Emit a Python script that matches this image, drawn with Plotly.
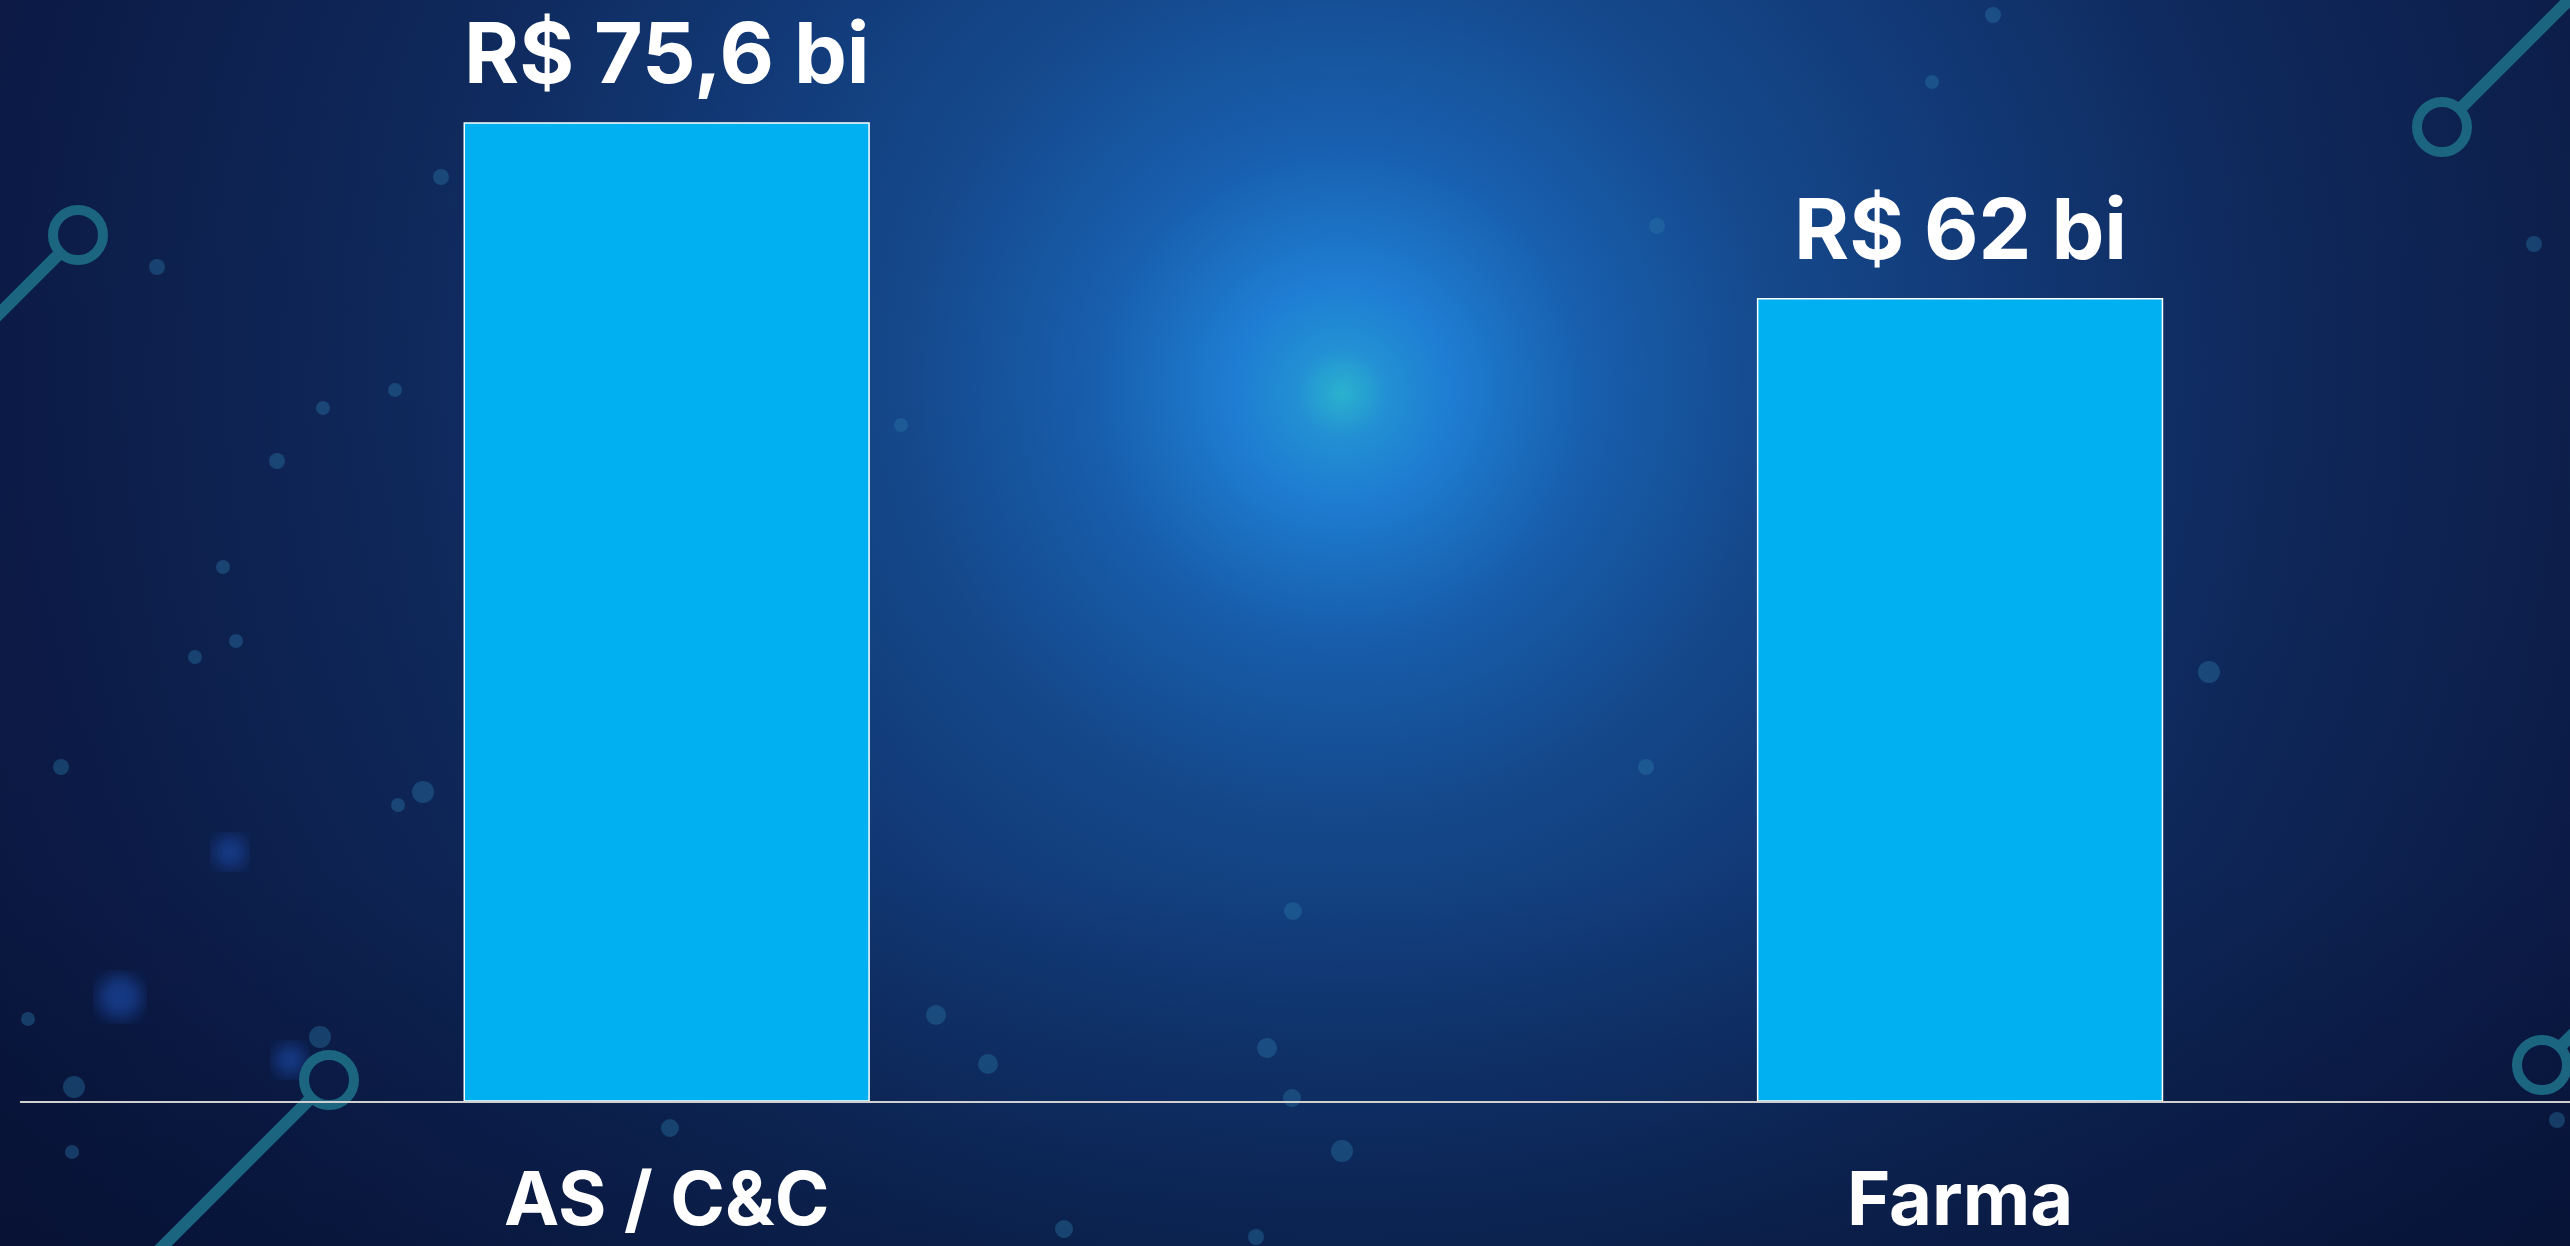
import base64
import plotly.graph_objects as go

# ---- data ----
categories = ["AS / C&C", "Farma"]
values = [75.6, 62.0]
value_labels = ["R$ 75,6 bi", "R$ 62 bi"]

# ---- canvas ----
W, H = 2570, 1246
ML, MR, MT, MB = 20, 0, 0, 145
plot_w = W - ML - MR
plot_h = H - MT - MB

# ---- decorative background (svg) ----
ring_decor = [  # (cx, cy, x_end, y_end)
    (78, 235, -20, 333),
    (2442, 127, 2600, -31),
    (329, 1080, 150, 1259),
    (2542, 1065, 2620, 987),
]
dot_decor = [
    (441, 177, 8), (157, 267, 8), (323, 408, 7), (395, 390, 7), (277, 461, 8),
    (901, 425, 7), (223, 567, 7), (236, 641, 7), (195, 657, 7), (61, 767, 8),
    (423, 792, 11), (398, 805, 7), (1657, 226, 8), (1993, 15, 8), (1932, 82, 7),
    (2534, 244, 8), (2209, 672, 11), (1646, 767, 8), (1293, 911, 9), (936, 1015, 10),
    (988, 1064, 10), (1267, 1048, 10), (1292, 1098, 9), (1342, 1151, 11), (670, 1128, 9),
    (72, 1152, 7), (28, 1019, 7), (74, 1087, 11), (320, 1037, 11), (1064, 1229, 9),
    (1256, 1237, 8), (2557, 1120, 8),
]
blur_decor = [(120, 997, 22), (230, 852, 16), (290, 1060, 16)]

svg = [f'<svg xmlns="http://www.w3.org/2000/svg" width="{W}" height="{H}" viewBox="0 0 {W} {H}">',
       '<defs>',
       '<radialGradient id="g" gradientUnits="userSpaceOnUse" cx="1342" cy="393" r="1550">',
       '<stop offset="0" stop-color="#2bb6d3"/>',
       '<stop offset="0.03" stop-color="#2392d8"/>',
       '<stop offset="0.07" stop-color="#1f80d6"/>',
       '<stop offset="0.16" stop-color="#1860b0"/>',
       '<stop offset="0.28" stop-color="#154a8e"/>',
       '<stop offset="0.42" stop-color="#123a78"/>',
       '<stop offset="0.6" stop-color="#0f295c"/>',
       '<stop offset="0.85" stop-color="#0c1c48"/>',
       '<stop offset="1" stop-color="#0a163e"/>',
       '</radialGradient>',
       '<linearGradient id="v" x1="0" y1="0" x2="0" y2="1">',
       '<stop offset="0" stop-color="#000820" stop-opacity="0"/>',
       '<stop offset="0.7" stop-color="#000820" stop-opacity="0.05"/>',
       '<stop offset="1" stop-color="#000820" stop-opacity="0.3"/>',
       '</linearGradient>',
       '<filter id="b"><feGaussianBlur stdDeviation="8"/></filter>',
       '</defs>',
       f'<rect x="0" y="0" width="{W}" height="{H}" fill="url(#g)"/>',
       f'<rect x="0" y="0" width="{W}" height="{H}" fill="url(#v)"/>']
for cx, cy, r in blur_decor:
    svg.append(f'<circle cx="{cx}" cy="{cy}" r="{r}" fill="#1d4fb0" opacity="0.6" filter="url(#b)"/>')
for cx, cy, r in dot_decor:
    svg.append(f'<circle cx="{cx}" cy="{cy}" r="{r}" fill="#2a78a8" opacity="0.4"/>')
for cx, cy, xe, ye in ring_decor:
    dx, dy = xe - cx, ye - cy
    n = (dx * dx + dy * dy) ** 0.5
    sx, sy = cx + 25 * dx / n, cy + 25 * dy / n
    svg.append(f'<line x1="{sx:.1f}" y1="{sy:.1f}" x2="{xe}" y2="{ye}" stroke="#1b6580" stroke-width="12"/>')
    svg.append(f'<circle cx="{cx}" cy="{cy}" r="25" fill="none" stroke="#1b6580" stroke-width="10"/>')
svg.append('</svg>')
bg_src = "data:image/svg+xml;base64," + base64.b64encode("".join(svg).encode()).decode()

# ---- figure ----
fig = go.Figure()
fig.add_trace(go.Bar(
    x=categories, y=values, width=0.313,
    marker=dict(color="#00B0F0", line=dict(color="#ffffff", width=1.5)),
    hoverinfo="skip",
))

for c, v, t in zip(categories, values, value_labels):
    fig.add_annotation(
        x=c, y=v, text=t, showarrow=False, yanchor="bottom", yshift=18,
        font=dict(family="Inter", size=84, color="white", weight=700),
    )

fig.update_layout(
    width=W, height=H,
    margin=dict(l=ML, r=MR, t=MT, b=MB, pad=0, autoexpand=False),
    paper_bgcolor="#0d1f4c",
    plot_bgcolor="rgba(0,0,0,0)",
    showlegend=False,
    images=[dict(
        source=bg_src, xref="paper", yref="paper",
        x=-ML / plot_w, y=1 + MT / plot_h,
        sizex=W / plot_w, sizey=H / plot_h,
        sizing="stretch", xanchor="left", yanchor="top", layer="below",
    )],
    xaxis=dict(
        type="category", range=[-0.5, 1.4716], automargin=False,
        showline=True, linecolor="#d0d0d0", linewidth=2,
        showgrid=False, zeroline=False, ticks="",
        ticklabelstandoff=33,
        tickfont=dict(family="Inter", size=74, color="white", weight=700),
    ),
    yaxis=dict(
        range=[0, 85.1], visible=False, showgrid=False, zeroline=False,
        automargin=False,
    ),
)

fig.write_html(
    "out.html",
    config={"displayModeBar": False},
    post_script="document.body.style.margin='0px';document.body.style.overflow='hidden';",
)
